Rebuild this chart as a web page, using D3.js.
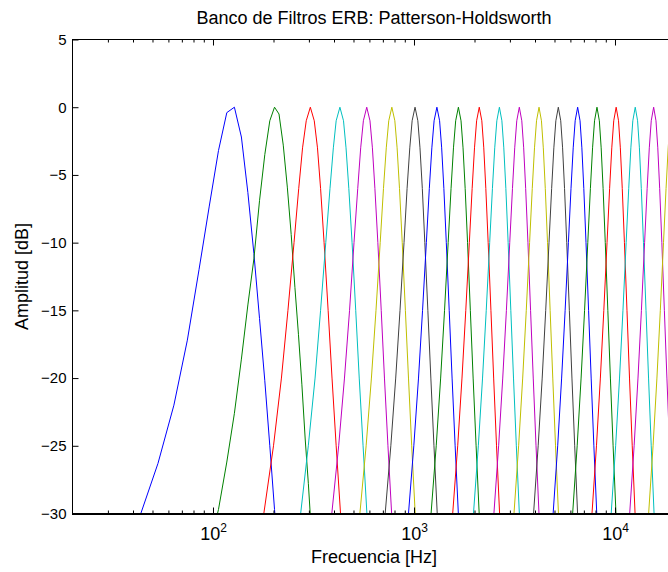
<!DOCTYPE html>
<html>
<head>
<meta charset="utf-8">
<script src="https://cdn.jsdelivr.net/npm/d3@7"></script>
<style>
  html, body { margin: 0; padding: 0; background: #ffffff; overflow: hidden; }
  svg { display: block; }
  text { font-family: "Liberation Sans", Arial, Helvetica, sans-serif; fill: #000; }
</style>
</head>
<body>
<div id="chart"></div>
<script>
// ---------------- data ----------------
const titleText = "Banco de Filtros ERB: Patterson-Holdsworth";
const xLabelText = "Frecuencia [Hz]";
const yLabelText = "Amplitud [dB]";

const xDomain = [20, 20000];
const yDomain = [-30, 5];
const yTicks = [5, 0, -5, -10, -15, -20, -25, -30];
const xMajorTicks = [100, 1000, 10000];
const xMinorTicks = [30, 40, 50, 60, 70, 80, 90,
                     200, 300, 400, 500, 600, 700, 800, 900,
                     2000, 3000, 4000, 5000, 6000, 7000, 8000, 9000];

// first two filters: sampled response (FFT bins) visible as polylines
const filter1Freqs = [42.6, 53.25, 63.9, 74.55, 85.2, 95.85, 106.5, 117.15, 127.8, 138.45, 149.1, 159.75, 170.4, 181.05, 191.7, 202.35, 213.0];
const filter1Db    = [-30.5, -26.3, -22.0, -17.2, -12.0, -7.3, -3.2, -0.4, 0, -2.2, -6.3, -10.8, -15.6, -20.2, -25.0, -29.7, -34.0];

const filter2Freqs = [95.85, 106.5, 117.15, 127.8, 138.45, 149.1, 159.75, 170.4, 181.05, 191.7, 202.35, 213.0, 223.65, 234.3, 244.95, 255.6, 266.25, 276.9, 287.55, 298.2, 308.85];
const filter2Db    = [-32.5, -29.7, -26.2, -22.6, -18.6, -14.6, -11.2, -6.9, -3.5, -1.0, 0, -0.5, -2.8, -5.9, -9.4, -13.3, -16.8, -20.5, -24.5, -27.8, -31.5];

// remaining filters: frequency (Hz) where each curve meets the levels below
const bankLevelsDb = [-35, -30, -25, -20, -15, -10, -6, -3, -1, 0, -1, -3, -6, -10, -15, -20, -25, -30, -35];
const bankFreqs = [
  [155, 179, 200, 219, 236, 253, 267, 279, 291, 305, 319, 331, 343, 357, 374, 391, 410, 431, 455],
  [244, 273, 298, 322, 343, 364, 382, 397, 410, 428, 446, 459, 474, 492, 513, 534, 558, 583, 612],
  [355, 390, 422, 451, 478, 503, 525, 543, 560, 582, 604, 621, 639, 661, 687, 713, 742, 774, 810],
  [494, 538, 578, 614, 647, 679, 705, 728, 749, 776, 803, 824, 847, 874, 906, 939, 974, 1014, 1058],
  [664, 719, 767, 811, 852, 892, 924, 953, 979, 1012, 1045, 1071, 1100, 1132, 1172, 1213, 1257, 1305, 1360],
  [871, 939, 998, 1053, 1103, 1152, 1192, 1227, 1259, 1300, 1341, 1373, 1408, 1448, 1497, 1547, 1602, 1662, 1729],
  [1132, 1216, 1290, 1357, 1419, 1479, 1529, 1572, 1612, 1663, 1714, 1754, 1797, 1847, 1907, 1969, 2037, 2110, 2194],
  [1455, 1558, 1650, 1733, 1810, 1885, 1947, 2000, 2049, 2112, 2175, 2224, 2277, 2339, 2414, 2491, 2574, 2666, 2769],
  [1849, 1977, 2090, 2193, 2288, 2380, 2456, 2522, 2583, 2660, 2737, 2798, 2864, 2940, 3032, 3127, 3230, 3343, 3471],
  [2340, 2498, 2637, 2764, 2882, 2995, 3090, 3171, 3246, 3342, 3438, 3513, 3594, 3689, 3802, 3920, 4047, 4187, 4344],
  [2949, 3144, 3316, 3474, 3619, 3759, 3876, 3977, 4070, 4188, 4306, 4399, 4500, 4617, 4757, 4903, 5060, 5233, 5428],
  [3695, 3935, 4148, 4343, 4522, 4696, 4840, 4964, 5079, 5225, 5371, 5486, 5610, 5754, 5928, 6107, 6302, 6515, 6756],
  [4625, 4923, 5187, 5427, 5649, 5864, 6042, 6196, 6338, 6519, 6700, 6842, 6996, 7174, 7389, 7611, 7851, 8115, 8413],
  [5788, 6157, 6484, 6782, 7057, 7323, 7544, 7735, 7911, 8135, 8359, 8535, 8726, 8947, 9213, 9488, 9786, 10113, 10482],
  [7227, 7684, 8089, 8458, 8799, 9129, 9403, 9639, 9857, 10135, 10413, 10631, 10867, 11141, 11471, 11810, 12182, 12586, 13043],
  [9007, 9574, 10075, 10533, 10956, 11364, 11703, 11995, 12266, 12610, 12954, 13225, 13517, 13856, 14265, 14687, 15145, 15646, 16213],
  [11136, 11834, 12451, 13014, 13534, 14037, 14454, 14814, 15147, 15570, 15993, 16326, 16686, 17104, 17606, 18126, 18689, 19306, 20004],
  [13841, 14704, 15468, 16166, 16809, 17432, 17948, 18394, 18806, 19330, 19854, 20266, 20712, 21229, 21851, 22494, 23192, 23956, 24819]
];

// MATLAB default line colour order (style)
const colorOrder = ["#0000ff", "#008000", "#ff0000", "#00bfbf", "#bf00bf", "#bfbf00", "#404040"];

// ---------------- drawing ----------------
const W = 668, H = 572;
const svg = d3.select("#chart").append("svg")
  .attr("width", W).attr("height", H)
  .attr("viewBox", `0 0 ${W} ${H}`);
svg.append("rect").attr("width", W).attr("height", H).attr("fill", "#fff");

const pLeft = 72.5, pRight = 675.5, pTop = 39.5, pBottom = 513.5;
const x = d3.scaleLog().domain(xDomain).range([pLeft, pRight]);
const y = d3.scaleLinear().domain(yDomain).range([pBottom, pTop]);

// build series
const series = [];
series.push(filter1Freqs.map((f, i) => [f, filter1Db[i]]));
series.push(filter2Freqs.map((f, i) => [f, filter2Db[i]]));
bankFreqs.forEach(row => series.push(row.map((f, i) => [f, bankLevelsDb[i]])));

svg.append("defs").append("clipPath").attr("id", "plotclip")
  .append("rect").attr("x", pLeft).attr("y", pTop)
  .attr("width", pRight - pLeft).attr("height", pBottom - pTop);

const line = d3.line().x(d => x(d[0])).y(d => y(d[1]));
svg.append("g").attr("clip-path", "url(#plotclip)")
  .selectAll("path").data(series).join("path")
  .attr("d", line)
  .attr("fill", "none")
  .attr("stroke", (d, i) => colorOrder[i % colorOrder.length])
  .attr("stroke-width", 1);

// axes: labels
const yLab = svg.append("g").attr("transform", `translate(${pLeft},0)`)
  .call(d3.axisLeft(y).tickValues(yTicks).tickSize(0).tickPadding(6).tickFormat(d3.format("d")));
yLab.select(".domain").remove();
yLab.selectAll("text").style("font-size", "15px").style("font-family", "'Liberation Sans', Arial, sans-serif");

const xLab = svg.append("g").attr("transform", `translate(0,${pBottom})`)
  .call(d3.axisBottom(x).tickValues(xMajorTicks).tickSize(0).tickPadding(14).tickFormat(""));
xLab.select(".domain").remove();
xLab.selectAll(".tick text").each(function (d) {
  const t = d3.select(this);
  t.style("font-size", "18px").style("font-family", "'Liberation Sans', Arial, sans-serif");
  t.append("tspan").text("10");
  t.append("tspan").attr("dy", "-0.72em").style("font-size", "12px").text(Math.round(Math.log10(d)));
});

// axes: inward ticks
function tickAxis(axisFn, scale, vals, size, transform) {
  const g = svg.append("g").attr("transform", transform)
    .call(axisFn(scale).tickValues(vals).tickSize(size).tickSizeOuter(0).tickFormat(""));
  g.select(".domain").remove();
  g.selectAll(".tick line").attr("stroke", "#000").attr("stroke-width", 1);
  return g;
}
tickAxis(d3.axisBottom, x, xMajorTicks, -6, `translate(0,${pBottom})`);
tickAxis(d3.axisBottom, x, xMinorTicks, -3, `translate(0,${pBottom})`);
tickAxis(d3.axisTop, x, xMajorTicks, -6, `translate(0,${pTop})`);
tickAxis(d3.axisTop, x, xMinorTicks, -3, `translate(0,${pTop})`);
tickAxis(d3.axisLeft, y, yTicks, -6, `translate(${pLeft},0)`);
tickAxis(d3.axisRight, y, yTicks, -6, `translate(${pRight},0)`);

// box
svg.append("rect").attr("x", pLeft).attr("y", pTop)
  .attr("width", pRight - pLeft).attr("height", pBottom - pTop)
  .attr("fill", "none").attr("stroke", "#000").attr("stroke-width", 1);
// slightly heavier bottom edge, as in the reference
svg.append("line").attr("x1", pLeft - 0.5).attr("x2", pRight)
  .attr("y1", pBottom + 0.5).attr("y2", pBottom + 0.5)
  .attr("stroke", "#000").attr("stroke-width", 2);

// titles
svg.append("text").attr("x", (pLeft + pRight) / 2).attr("y", 24)
  .attr("text-anchor", "middle").style("font-size", "18px").text(titleText);
svg.append("text").attr("x", (pLeft + pRight) / 2).attr("y", 563)
  .attr("text-anchor", "middle").style("font-size", "18px").text(xLabelText);
svg.append("text").attr("transform", `translate(28,${(pTop + pBottom) / 2}) rotate(-90)`)
  .attr("text-anchor", "middle").style("font-size", "18px").text(yLabelText);
</script>
</body>
</html>
